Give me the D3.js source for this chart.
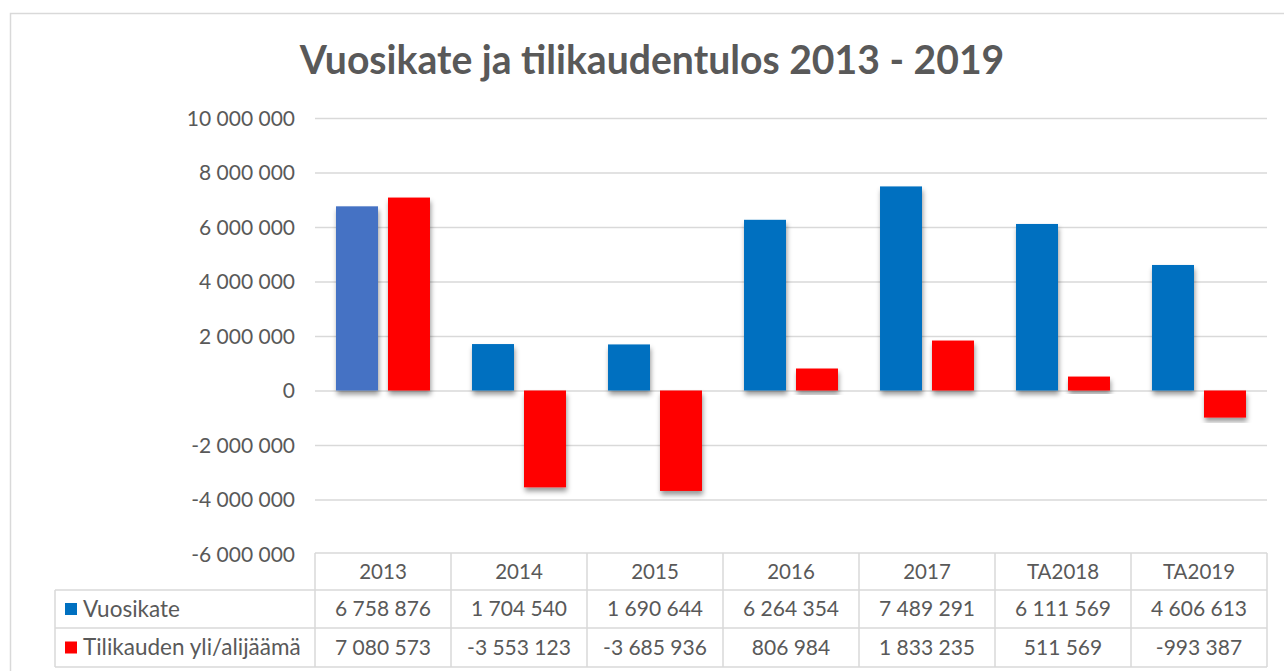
<!DOCTYPE html>
<html>
<head>
<meta charset="utf-8">
<script src="https://cdn.jsdelivr.net/npm/d3@7/dist/d3.min.js"></script>
<style>
  html, body { margin: 0; padding: 0; background: #fff; }
  svg { display: block; }
  text { font-family: Lato, "Open Sans", sans-serif; fill: #595959; }
</style>
</head>
<body>
<svg id="chart" width="1284" height="671"></svg>
<script>
const title = "Vuosikate ja tilikaudentulos 2013 - 2019";
const categories = ["2013", "2014", "2015", "2016", "2017", "TA2018", "TA2019"];
const seriesNames = ["Vuosikate", "Tilikauden yli/alijäämä"];
const vuosikate = [6758876, 1704540, 1690644, 6264354, 7489291, 6111569, 4606613];
const tilikausi = [7080573, -3553123, -3685936, 806984, 1833235, 511569, -993387];
const yTicks = [-6000000, -4000000, -2000000, 0, 2000000, 4000000, 6000000, 8000000, 10000000];

const W = 1284, H = 671;
const svg = d3.select("#chart");
const grey = "#d9d9d9";
const blue = "#0070C0", blueFirst = "#4472C4", red = "#FF0000";

const fi = d3.formatLocale({ decimal: ",", thousands: " ", grouping: [3], currency: ["", " €"], minus: "-" });
const fmt = fi.format(",d");

// filter for bar shadow
const defs = svg.append("defs");
const f = defs.append("filter").attr("id", "shadow").attr("x", "-20%").attr("y", "-20%").attr("width", "140%").attr("height", "140%");
f.append("feDropShadow").attr("dx", 1).attr("dy", 4).attr("stdDeviation", 2.5).attr("flood-color", "#000").attr("flood-opacity", 0.4);

// outer frame
svg.append("rect").attr("x", 10.5).attr("y", 13.5).attr("width", W).attr("height", H)
  .attr("fill", "none").attr("stroke", grey).attr("stroke-width", 1.5);

const plotL = 315, plotR = 1267, plotT = 118, plotB = 554;
const y = d3.scaleLinear().domain([-6000000, 10000000]).range([plotB, plotT]);
const x = d3.scaleBand().domain(categories).range([plotL, plotR]).paddingInner(0.309).paddingOuter(0.1545);
const xs = d3.scaleBand().domain([0, 1]).range([0, x.bandwidth()]).paddingInner(0.1923).paddingOuter(0);

// title
const t = svg.append("text").attr("x", 652).attr("y", 74).attr("text-anchor", "middle")
  .style("font-weight", "bold").style("font-size", "36px").text(title);
const tw = t.node().getComputedTextLength();
t.style("font-size", (36 * 705 / tw).toFixed(2) + "px");

// gridlines + y labels
const yAxis = d3.axisLeft(y).tickValues(yTicks).tickSize(-(plotR - plotL)).tickFormat(fmt).tickPadding(20);
const ga = svg.append("g").attr("transform", `translate(${plotL},0)`).call(yAxis);
ga.select(".domain").remove();
ga.selectAll(".tick line").attr("stroke", grey).attr("stroke-width", 1.5);
ga.selectAll(".tick text").attr("fill", "#595959").style("font-size", "21px").style("font-family", "Lato, sans-serif").attr("dy", "0.35em");
ga.selectAll(".tick").filter(d => d === -6000000).select("line").remove();

// bars
const series = [vuosikate, tilikausi];
const barsG = svg.append("g");
categories.forEach((c, i) => {
  series.forEach((vals, s) => {
    const v = vals[i];
    barsG.append("rect")
      .attr("x", x(c) + xs(s))
      .attr("width", xs.bandwidth())
      .attr("y", y(Math.max(0, v)))
      .attr("height", Math.abs(y(v) - y(0)))
      .attr("fill", s === 1 ? red : (i === 0 ? blueFirst : blue))
      .attr("filter", "url(#shadow)");
  });
});

// data table
const tblL = 55, rowTops = [553, 590, 628, 667];
const tg = svg.append("g");
const line = (x1, y1, x2, y2) => tg.append("line").attr("x1", x1).attr("y1", y1).attr("x2", x2).attr("y2", y2)
  .attr("stroke", grey).attr("stroke-width", 1.5);
line(plotL, rowTops[0], plotR, rowTops[0]);
line(tblL, rowTops[1], plotR, rowTops[1]);
line(tblL, rowTops[2], plotR, rowTops[2]);
line(tblL, rowTops[3], plotR, rowTops[3]);
line(tblL, rowTops[1], tblL, rowTops[3]);
categories.forEach(c => line(x(c) - x.step() * x.paddingInner() / 2, rowTops[0], x(c) - x.step() * x.paddingInner() / 2, rowTops[3]));
line(plotR, rowTops[0], plotR, rowTops[3]);

const cx = c => x(c) + x.bandwidth() / 2;
categories.forEach(c => {
  tg.append("text").attr("x", cx(c)).attr("y", (rowTops[0] + rowTops[1]) / 2).attr("dy", "0.35em")
    .attr("text-anchor", "middle").style("font-size", "20.5px").text(c);
});
series.forEach((vals, s) => {
  const yc = (rowTops[s + 1] + rowTops[s + 2]) / 2;
  tg.append("rect").attr("x", 65).attr("y", yc - 6).attr("width", 12).attr("height", 12).attr("fill", s === 0 ? blue : red);
  tg.append("text").attr("x", 83).attr("y", yc).attr("dy", "0.35em").style("font-size", "22.5px").text(seriesNames[s]);
  vals.forEach((v, i) => {
    tg.append("text").attr("x", cx(categories[i])).attr("y", yc).attr("dy", "0.35em")
      .attr("text-anchor", "middle").style("font-size", "21px").text(fmt(v));
  });
});
</script>
</body>
</html>
